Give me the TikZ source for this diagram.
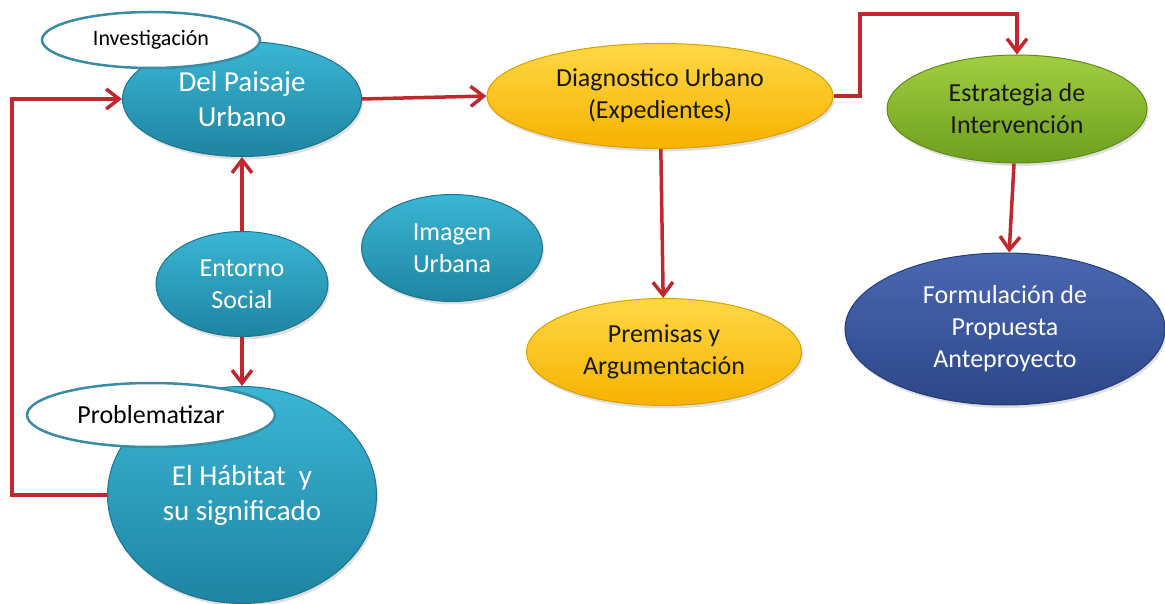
\documentclass[tikz,border=0pt]{standalone}
\usepackage{fontspec}
\setmainfont{Carlito}
\usepackage{tikz}
\usetikzlibrary{positioning,shapes.geometric,arrows.meta,shadows}

\definecolor{flecha}{RGB}{192,40,46}
\definecolor{tealclaro}{RGB}{58,182,212}
\definecolor{tealoscuro}{RGB}{30,132,162}
\definecolor{tealborde}{RGB}{28,116,142}
\definecolor{amarclaro}{RGB}{255,216,70}
\definecolor{amaroscuro}{RGB}{246,178,0}
\definecolor{amarborde}{RGB}{220,158,0}
\definecolor{verdeclaro}{RGB}{162,206,64}
\definecolor{verdeoscuro}{RGB}{108,158,30}
\definecolor{verdeborde}{RGB}{96,138,28}
\definecolor{azulclaro}{RGB}{74,104,178}
\definecolor{azuloscuro}{RGB}{44,70,136}
\definecolor{azulborde}{RGB}{38,60,118}
\definecolor{etiqueta}{RGB}{58,140,166}

\tikzset{
	burbuja/.style={ellipse, inner sep=0pt, align=center, line width=1pt,
		drop shadow={opacity=0.25, shadow xshift=1.5pt, shadow yshift=-3pt},
		font=\fontsize{26}{32}\selectfont},
	cian/.style={burbuja, draw=tealborde, top color=tealclaro, bottom color=tealoscuro, text=white},
	amarillo/.style={burbuja, draw=amarborde, top color=amarclaro, bottom color=amaroscuro, text=black!90},
	verde/.style={burbuja, draw=verdeborde, top color=verdeclaro, bottom color=verdeoscuro, text=black!90},
	azul/.style={burbuja, draw=azulborde, top color=azulclaro, bottom color=azuloscuro, text=white},
	rotulo/.style={ellipse, inner sep=0pt, draw=etiqueta, line width=2.5pt, fill=white, text=black,
		font=\fontsize{22}{26}\selectfont},
	grande/.style={font=\fontsize{29}{35}\selectfont}
}

\newcommand{\relation}[3][]
{
	% flecha roja de un nodo a otro
	\path [draw=flecha, line width=3.5pt, -{Straight Barb[length=13pt,width=20pt]}, #1] (#2) -- (#3);
}
\newcommand{\etapa}[5][]{
	\node [#1] (#2) at (#3, #4) {#5};
}

\begin{document}
\begin{tikzpicture}[x=1pt, y=-1pt]
		\useasboundingbox (0,0) rectangle (1165,604);
		\etapa[cian, grande, minimum width=239pt, minimum height=115pt]{paisaje}{242}{99}{Del Paisaje\\Urbano}
		\etapa[cian, minimum width=172pt, minimum height=105pt]{entorno}{242}{284}{Entorno\\Social}
		\etapa[cian, minimum width=181pt, minimum height=107pt]{imagen}{452}{248}{Imagen\\Urbana}
		\etapa[cian, grande, minimum width=269pt, minimum height=217pt]{habitat}{242}{495}{El Hábitat~ y\\su significado}
		\etapa[amarillo, minimum width=346pt, minimum height=105pt]{diagnostico}{660}{96}{Diagnostico Urbano\\(Expedientes)}
		\etapa[amarillo, minimum width=275pt, minimum height=107pt]{premisas}{664}{352}{Premisas y\\Argumentación}
		\etapa[verde, minimum width=260pt, minimum height=108pt]{estrategia}{1017}{109}{Estrategia de\\Intervención}
		\etapa[azul, minimum width=320pt, minimum height=152pt]{formulacion}{1005}{329}{Formulación de\\Propuesta\\Anteproyecto}
		% rotulos encima
		\etapa[rotulo, minimum width=218pt, minimum height=56pt]{investigacion}{151}{40}{Investigación}
		\etapa[rotulo, font=\fontsize{26}{30}\selectfont, minimum width=248pt, minimum height=64pt]{problematizar}{151}{415}{Problematizar}
		\coordinate (codo) at (860,14);
		\coordinate (retorno) at (12,99);
		\relation{entorno}{paisaje}
		\relation{entorno}{habitat}
		\relation{paisaje.east}{diagnostico.west}
		\relation{diagnostico}{premisas}
		\relation{estrategia}{formulacion}
		\path [draw=flecha, line width=3.5pt, -{Straight Barb[length=13pt,width=20pt]}] (diagnostico.east) -| (codo) -| (estrategia.north);
		\path [draw=flecha, line width=3.5pt, -{Straight Barb[length=13pt,width=20pt]}] (habitat.west) -| (retorno) -- (paisaje.west);
		\end{tikzpicture}
\end{document}
